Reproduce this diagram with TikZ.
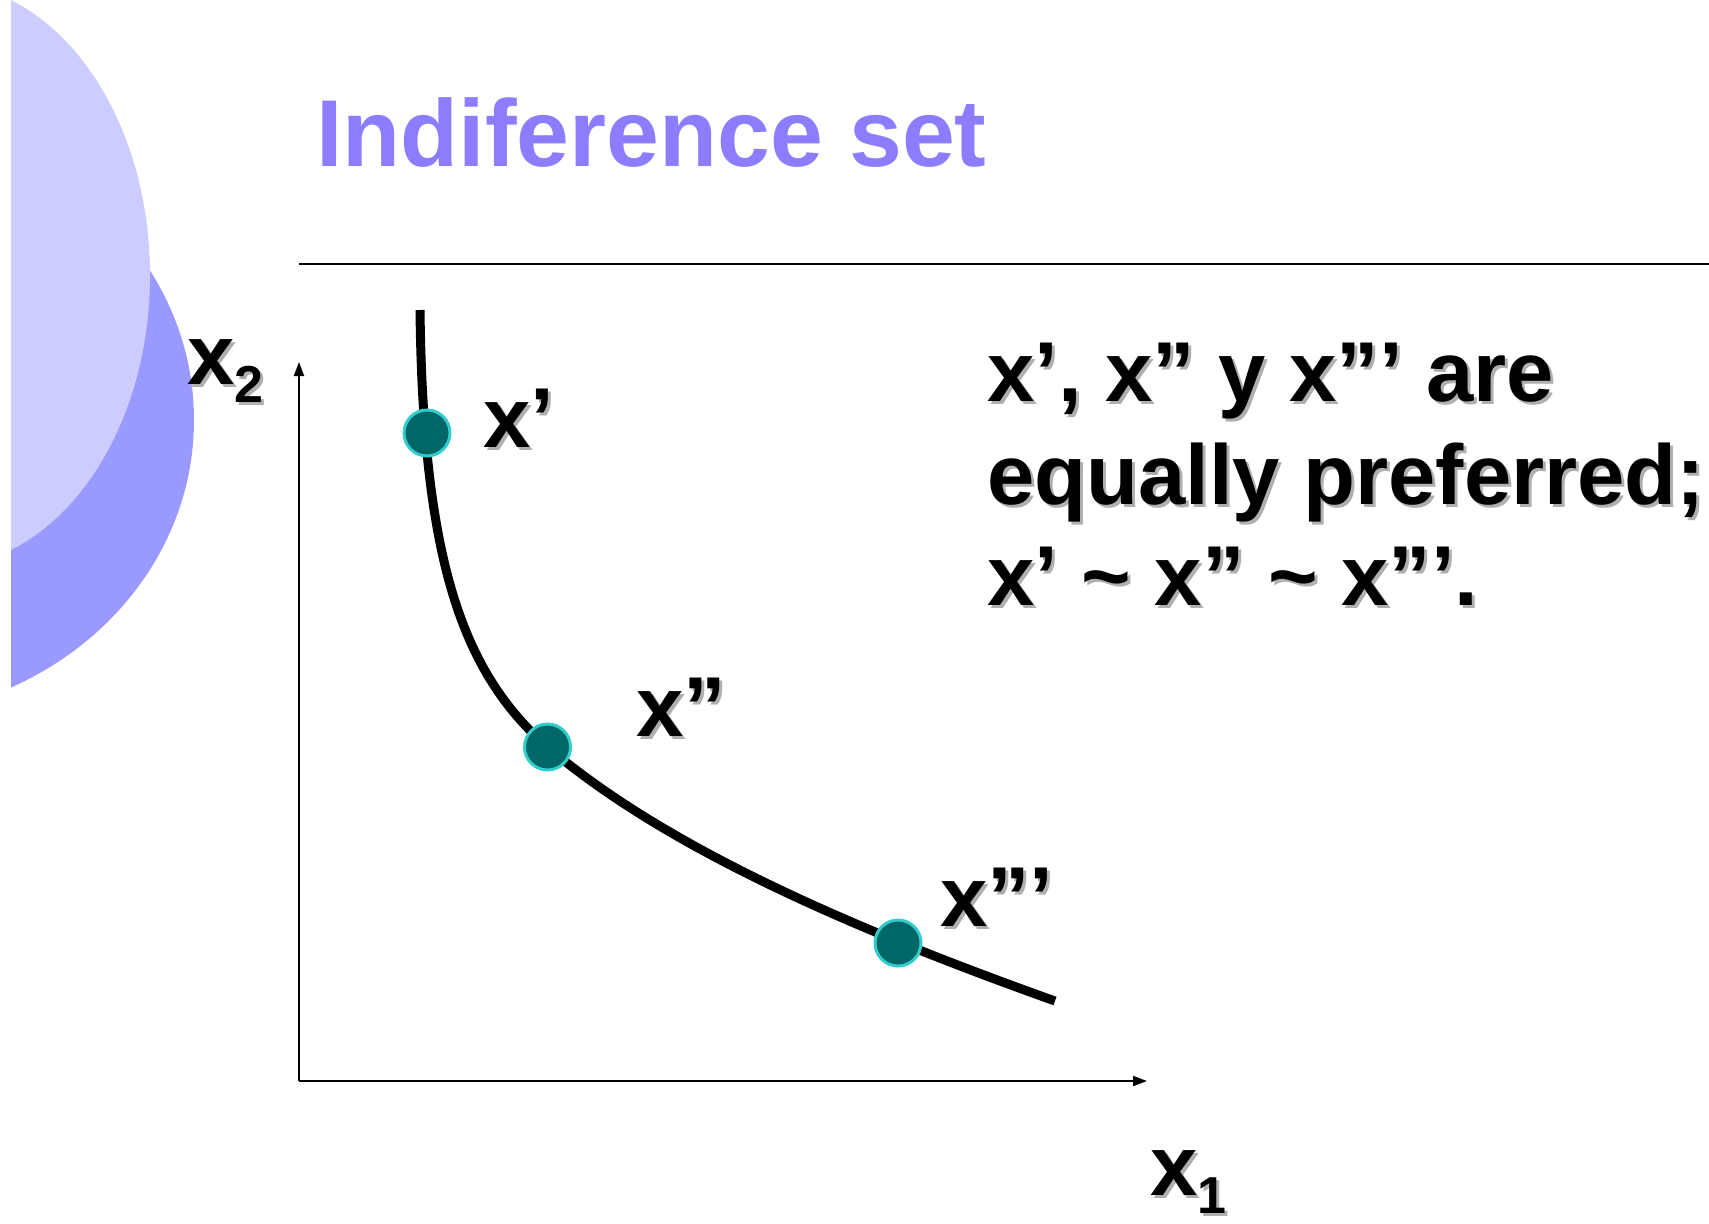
\documentclass[tikz,border=0pt]{standalone}
\usepackage{fontspec}
\setmainfont{Liberation Sans}
\usetikzlibrary{arrows.meta}
\definecolor{titlecol}{RGB}{140,125,255}
\definecolor{lightlav}{RGB}{204,204,255}
\definecolor{darklav}{RGB}{153,153,255}
\definecolor{dotfill}{RGB}{0,102,102}
\definecolor{dotring}{RGB}{51,204,204}
\definecolor{shadowgray}{RGB}{175,175,175}
\newcommand\shd[1]{\leavevmode\rlap{\kern3pt\raisebox{-3pt}{\color{shadowgray}#1}}#1}
\newcommand\subsc[1]{\raisebox{-18pt}{\fontsize{52}{52}\selectfont #1}}
\begin{document}
\begin{tikzpicture}[x=1pt,y=-1pt,
  bigtext/.style={font=\fontsize{85}{102}\selectfont\bfseries, inner sep=0pt, anchor=base west},
  titletext/.style={font=\fontsize{95}{114}\selectfont\bfseries, text=titlecol, inner sep=0pt, anchor=base west},
  axis/.style={line width=2pt, -{Triangle[length=14pt,width=10pt]}},
  dot/.style={circle, fill=dotfill, draw=dotring, line width=3pt, minimum size=46pt, inner sep=0pt},
  curve/.style={line width=9pt}]
\useasboundingbox (0,0) rectangle (1709,1224);
\begin{scope}
  \clip (11,0) rectangle (400,1224);
  \fill[darklav] (-130,420) ellipse [x radius=324pt, y radius=297pt];
  \fill[lightlav] (-60,275) ellipse [x radius=210pt, y radius=292pt];
\end{scope}
\node[titletext] (title) at (316,166) {Indiference set};
\coordinate (ruleL) at (299,264);
\coordinate (ruleR) at (1709,264);
\draw[line width=2.5pt] (ruleL) -- (ruleR);
\coordinate (O) at (299,1081);
\coordinate (ytip) at (299,362);
\coordinate (xtip) at (1147,1081);
\draw[axis] (O) -- (ytip);
\draw[axis] (O) -- (xtip);
\coordinate (cTop) at (420,310);
\coordinate (cMid) at (547.5,747);
\coordinate (cEnd) at (1055,1001);
\draw[curve] (cTop) .. controls (423,560) and (462,672) .. (cMid)
  .. controls (667.5,849) and (855,929.6) .. (cEnd);
\node[dot] (p1) at (427,433) {};
\node[dot] (p2) at (cMid) {};
\node[dot] (p3) at (898,943) {};
\node[bigtext] (l1) at (483,447) {\shd{x’}};
\node[bigtext] (l2) at (636,736) {\shd{x”}};
\node[bigtext] (l3) at (940,926) {\shd{x”’}};
\node[bigtext] (ax2) at (187,384) {\shd{x\subsc{2}}};
\node[bigtext] (ax1) at (1150,1195) {\shd{x\subsc{1}}};
\node[bigtext] (t1) at (987,401) {\shd{x’, x” y x”’ are}};
\node[bigtext] (t2) at (987,504) {\shd{equally preferred;}};
\node[bigtext] (t3) at (987,605) {\shd{x’ \textasciitilde{} x” \textasciitilde{} x”’.}};
\end{tikzpicture}
\end{document}
